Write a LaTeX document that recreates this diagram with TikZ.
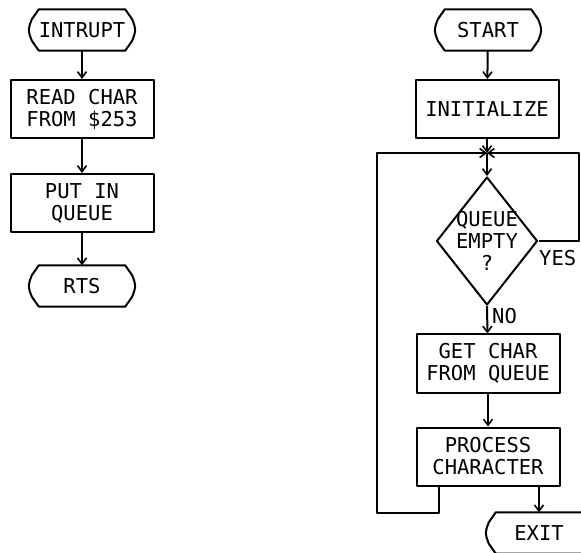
\documentclass[tikz,border=0pt]{standalone}
\usepackage{fontspec}
\setmainfont{DejaVu Sans Mono}
\usetikzlibrary{arrows.meta,shapes.geometric}
\tikzset{
  x=1pt,y=-1pt,
  line/.style={line width=2pt,line join=round},
  arr/.style={line,-{Straight Barb[length=6pt,width=9pt,line width=1.6pt]}},
  txt/.style={font=\fontsize{20.5}{22}\selectfont,align=center,inner sep=0pt},
  proc/.style={txt,draw,line,minimum width=143pt,minimum height=58pt},
  term/.style={txt,minimum width=104pt,minimum height=41pt},
  dec/.style={txt,draw,line,diamond,minimum width=101pt,minimum height=128pt,
              aspect=0.79,inner sep=-9pt},
  lbl/.style={txt}
}
\newcommand\termshape[1]{%
  \draw[line] ([xshift=9pt]#1.north west) -- ([xshift=-9pt]#1.north east)
    -- ([xshift=-2pt,yshift=-10pt]#1.north east)
    .. controls ([xshift=2pt]#1.east) .. ([xshift=-2pt,yshift=10pt]#1.south east)
    -- ([xshift=-9pt]#1.south east) -- ([xshift=9pt]#1.south west)
    -- ([xshift=2pt,yshift=10pt]#1.south west)
    .. controls ([xshift=-2pt]#1.west) .. ([xshift=2pt,yshift=-10pt]#1.north west)
    -- cycle;}
\begin{document}
\begin{tikzpicture}
\useasboundingbox (0,0) rectangle (581,553);
\clip (0,0) rectangle (581,553);
% left flow
\node[term] (intr) at (82,30) {INTRUPT};
\termshape{intr}
\node[proc] (read) at (82,109) {READ CHAR\\FROM \$253};
\node[proc] (put) at (82,203) {PUT IN\\QUEUE};
\node[term] (rts) at (82,286) {RTS};
\termshape{rts}
\draw[arr] (intr) -- (read);
\draw[arr] (read) -- (put);
\draw[arr] (put) -- (rts);
% right flow
\node[term] (start) at (488,30) {START};
\termshape{start}
\node[proc] (init) at (487,109) {INITIALIZE};
\coordinate (junc) at (487,153);
\node[dec] (q) at (487,241) {QUEUE\\EMPTY\\?};
\node[proc] (get) at (488,363.5) {GET CHAR\\FROM QUEUE};
\node[proc] (proc) at (488,456.5) {PROCESS\\CHARACTER};
\node[term] (exit) at (539,533) {EXIT};
\termshape{exit}
\coordinate (yesr) at (579,241);
\coordinate (yest) at (579,153);
\coordinate (lb) at (439,513);
\coordinate (lbl) at (377,513);
\coordinate (ltop) at (377,153);
\node[lbl,anchor=west] (yes) at (539,258) {YES};
\node[lbl,anchor=west] (no) at (492,316) {NO};
\draw[arr] (start) -- (init);
\draw[arr] (init) -- (junc);
\draw[arr] (junc) -- (q.north);
\draw[arr] (q.east) -- (yesr) -- (yest) -- (junc);
\draw[arr] (q.south) -- (get);
\draw[arr] (get) -- (proc);
\draw[arr] (proc.south -| lb) -- (lb) -- (lbl) -- (ltop) -- (junc);
\draw[arr] (proc.south -| exit) -- (exit.north);
\end{tikzpicture}
\end{document}
